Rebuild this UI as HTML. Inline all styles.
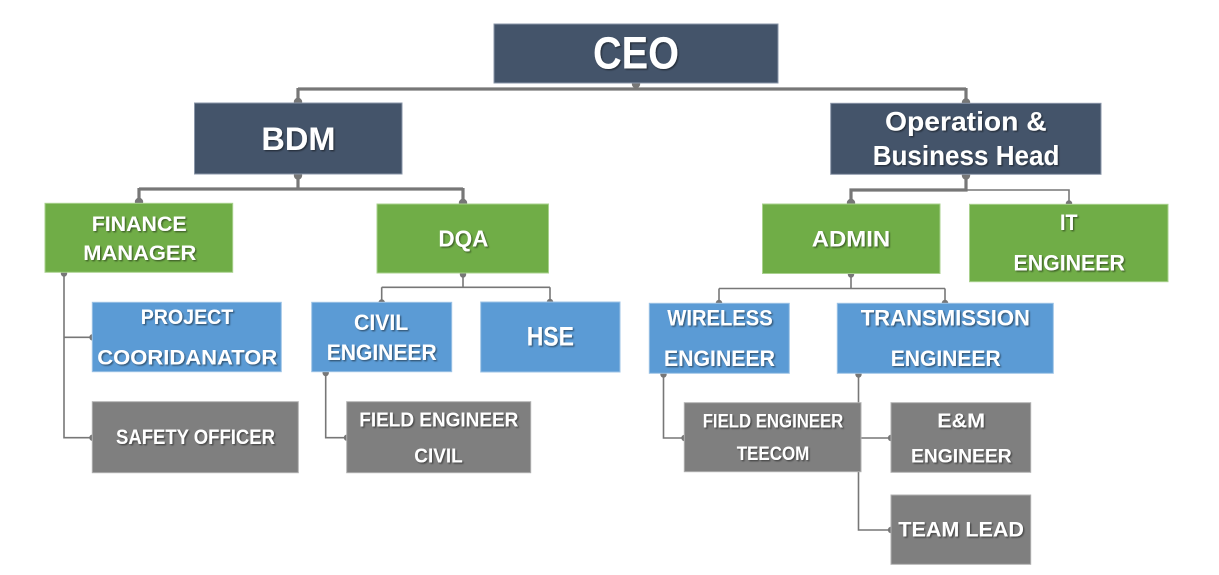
<!DOCTYPE html>
<html>
<head>
<meta charset="utf-8">
<style>
  html,body{margin:0;padding:0;background:#ffffff;}
  svg{display:block;}
  text{font-family:"Liberation Sans",Arial,sans-serif;font-weight:bold;fill:#ffffff;}
</style>
</head>
<body>
<svg width="1219" height="575" viewBox="0 0 1219 575" xmlns="http://www.w3.org/2000/svg">
  <defs>
    <filter id="ts" x="-10%" y="-30%" width="130%" height="170%">
      <feDropShadow dx="1.3" dy="1.3" stdDeviation="0.9" flood-color="#000" flood-opacity="0.45"/>
    </filter>
  </defs>

  <!-- thick connectors -->
  <g stroke="#777" stroke-width="3.2" fill="none">
    <path d="M636 82 V89 M298 89 H966 M298 88 V103 M966 88 V104"/>
    <path d="M298 174 V189 M139 189 H463 M139 188 V203 M463 188 V204"/>
    <path d="M966 174 V190 H851 V204"/>
  </g>
  <!-- thin connectors -->
  <g stroke="#777" stroke-width="1.6" fill="none">
    <path d="M966 190 H1069 V204"/>
    <path d="M463 273 V287.3 M381.7 287.3 H550 M381.7 287.3 V303 M550 287.3 V302"/>
    <path d="M851 273 V288.5 M719 288.5 H945 M719 288.5 V303 M945 288.5 V303"/>
    <path d="M64 272 V437.7 H92 M64 337.3 H92"/>
    <path d="M325.7 371 V437.7 H347"/>
    <path d="M663.5 373 V438 H684"/>
    <path d="M858.5 373 V530 H891 M858.5 438 H891"/>
  </g>
  <!-- dots -->
  <g fill="#777">
    <circle cx="636" cy="84" r="4.2"/>
    <circle cx="298" cy="102" r="4.2"/>
    <circle cx="966" cy="102.5" r="4.2"/>
    <circle cx="298" cy="175.5" r="4.2"/>
    <circle cx="139" cy="202" r="4.2"/>
    <circle cx="463" cy="203" r="4.2"/>
    <circle cx="966" cy="175.5" r="4.2"/>
    <circle cx="851" cy="203" r="4.2"/>
    <circle cx="1069" cy="203.5" r="3.2"/>
    <circle cx="463" cy="274.5" r="3.2"/>
    <circle cx="381.7" cy="302.5" r="3.2"/>
    <circle cx="550" cy="302" r="3.2"/>
    <circle cx="851" cy="274.5" r="3.2"/>
    <circle cx="719" cy="303" r="3.2"/>
    <circle cx="945" cy="303" r="3.2"/>
    <circle cx="64" cy="273.5" r="3.2"/>
    <circle cx="92.5" cy="337.3" r="3.2"/>
    <circle cx="92.5" cy="437.7" r="3.2"/>
    <circle cx="325.7" cy="373" r="3.2"/>
    <circle cx="347" cy="437.7" r="3.2"/>
    <circle cx="663.5" cy="374.5" r="3.2"/>
    <circle cx="684.5" cy="438" r="3.2"/>
    <circle cx="858.5" cy="374.5" r="3.2"/>
    <circle cx="891" cy="438" r="3.2"/>
    <circle cx="891" cy="530" r="3.2"/>
  </g>

  <!-- boxes -->
  <g stroke-width="1">
    <rect x="494" y="24" width="284" height="59" fill="#44546A" stroke="#8a96a8"/>
    <rect x="194.5" y="103" width="207.5" height="71" fill="#44546A" stroke="#8a96a8"/>
    <rect x="830.7" y="103.3" width="270.3" height="71" fill="#44546A" stroke="#8a96a8"/>

    <rect x="45" y="203.3" width="187.7" height="69" fill="#70AD47" stroke="#a9d18e"/>
    <rect x="377" y="204" width="171.5" height="69" fill="#70AD47" stroke="#a9d18e"/>
    <rect x="762.5" y="204" width="177.5" height="69.5" fill="#70AD47" stroke="#a9d18e"/>
    <rect x="969.5" y="204.3" width="198.5" height="77.4" fill="#70AD47" stroke="#a9d18e"/>

    <rect x="92.3" y="302.3" width="189" height="69.4" fill="#5B9BD5" stroke="#9dc3e6"/>
    <rect x="311.7" y="302.3" width="140" height="69.4" fill="#5B9BD5" stroke="#9dc3e6"/>
    <rect x="480.7" y="302" width="139.3" height="70" fill="#5B9BD5" stroke="#9dc3e6"/>
    <rect x="649.3" y="303.3" width="140" height="70" fill="#5B9BD5" stroke="#9dc3e6"/>
    <rect x="837.3" y="303.3" width="216" height="70" fill="#5B9BD5" stroke="#9dc3e6"/>

    <rect x="92.3" y="401.7" width="206" height="71" fill="#7F7F7F" stroke="#b0b0b0"/>
    <rect x="346.7" y="401.7" width="184" height="71" fill="#7F7F7F" stroke="#b0b0b0"/>
    <rect x="684.3" y="402.7" width="176.7" height="69" fill="#7F7F7F" stroke="#b0b0b0"/>
    <rect x="891" y="402.7" width="139.7" height="69.6" fill="#7F7F7F" stroke="#b0b0b0"/>
    <rect x="891" y="495" width="139.7" height="69.3" fill="#7F7F7F" stroke="#b0b0b0"/>
  </g>

  <!-- labels -->
  <g filter="url(#ts)">
    <text x="593" y="68.3" font-size="45" textLength="86" lengthAdjust="spacingAndGlyphs">CEO</text>
    <text x="261.4" y="150" font-size="32" textLength="74" lengthAdjust="spacingAndGlyphs">BDM</text>
    <text x="885" y="130.7" font-size="27" textLength="161.7" lengthAdjust="spacingAndGlyphs">Operation &amp;</text>
    <text x="872.7" y="165" font-size="27.5" textLength="186.7" lengthAdjust="spacingAndGlyphs">Business Head</text>

    <text x="91.7" y="231" font-size="21.5" textLength="95" lengthAdjust="spacingAndGlyphs">FINANCE</text>
    <text x="83.3" y="260" font-size="21.5" textLength="113" lengthAdjust="spacingAndGlyphs">MANAGER</text>
    <text x="438.4" y="246.7" font-size="23" textLength="50" lengthAdjust="spacingAndGlyphs">DQA</text>
    <text x="811.8" y="246.7" font-size="22" textLength="78.3" lengthAdjust="spacingAndGlyphs">ADMIN</text>
    <text x="1060" y="230" font-size="22" textLength="17.5" lengthAdjust="spacingAndGlyphs">IT</text>
    <text x="1013.5" y="270.7" font-size="22" textLength="111.4" lengthAdjust="spacingAndGlyphs">ENGINEER</text>

    <text x="140.7" y="324" font-size="21.5" textLength="92.6" lengthAdjust="spacingAndGlyphs">PROJECT</text>
    <text x="97.3" y="364.3" font-size="21.5" textLength="180" lengthAdjust="spacingAndGlyphs">COORIDANATOR</text>
    <text x="354" y="330" font-size="22.5" textLength="54.3" lengthAdjust="spacingAndGlyphs">CIVIL</text>
    <text x="326.7" y="360" font-size="22.5" textLength="110" lengthAdjust="spacingAndGlyphs">ENGINEER</text>
    <text x="526.7" y="345.7" font-size="26.5" textLength="47.3" lengthAdjust="spacingAndGlyphs">HSE</text>
    <text x="667.3" y="325.7" font-size="22" textLength="105.4" lengthAdjust="spacingAndGlyphs">WIRELESS</text>
    <text x="664" y="366" font-size="22" textLength="111" lengthAdjust="spacingAndGlyphs">ENGINEER</text>
    <text x="860.7" y="325.7" font-size="22" textLength="169.3" lengthAdjust="spacingAndGlyphs">TRANSMISSION</text>
    <text x="890.7" y="366" font-size="22" textLength="110" lengthAdjust="spacingAndGlyphs">ENGINEER</text>

    <text x="116" y="444" font-size="21" textLength="159" lengthAdjust="spacingAndGlyphs">SAFETY OFFICER</text>
    <text x="359.3" y="426.7" font-size="20" textLength="159" lengthAdjust="spacingAndGlyphs">FIELD ENGINEER</text>
    <text x="414.3" y="462.7" font-size="20" textLength="48.4" lengthAdjust="spacingAndGlyphs">CIVIL</text>
    <text x="702.7" y="427.7" font-size="19" textLength="140.6" lengthAdjust="spacingAndGlyphs">FIELD ENGINEER</text>
    <text x="736.7" y="460" font-size="19" textLength="72.6" lengthAdjust="spacingAndGlyphs">TEECOM</text>
    <text x="937.3" y="427.7" font-size="20" textLength="47.7" lengthAdjust="spacingAndGlyphs">E&amp;M</text>
    <text x="911" y="462.3" font-size="19.5" textLength="100.7" lengthAdjust="spacingAndGlyphs">ENGINEER</text>
    <text x="898.3" y="536.7" font-size="21" textLength="125.7" lengthAdjust="spacingAndGlyphs">TEAM LEAD</text>
  </g>
</svg>
</body>
</html>
